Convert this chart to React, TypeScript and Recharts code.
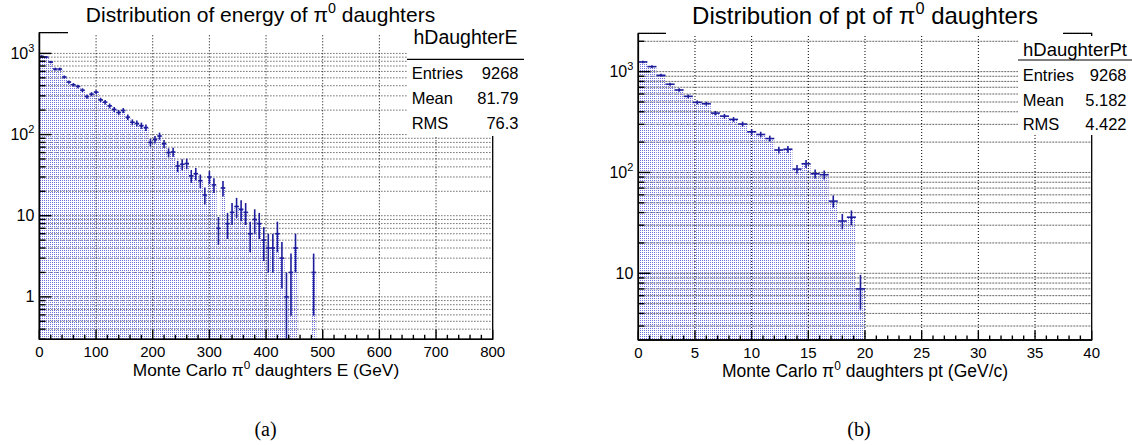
import React from 'react';
import {
  ComposedChart,
  Bar,
  Scatter,
  XAxis,
  YAxis,
  CartesianGrid,
  ErrorBar,
  ReferenceLine,
  ReferenceArea,
} from 'recharts';

const FONT = '"Liberation Sans", Arial, Helvetica, sans-serif';
const SERIF = '"Liberation Serif", "DejaVu Serif", serif';
const BLUE = '#1d1d9c';

// ---------- (a) energy of pi0 daughters ----------
const energyBinWidth = 8;
const energyCounts = [
  918, 902, 783, 642, 642, 512, 444, 411, 392, 353,
  294, 315, 334, 268, 251, 226, 204, 187, 198, 164,
  142, 137, 129, 122, 80, 87, 96, 77, 60, 61,
  41, 43, 44, 31, 33, 27, 18, 30, 24, 7,
  22, 8, 11, 13, 12, 11, 6, 9, 8, 5,
  4, 4, 6, 3, 1, 2, 4, 0, 0, 0,
  2, 0, 0, 0, 0, 0, 0, 0, 0, 0,
  0, 0, 0, 0, 0, 0, 0, 0, 0, 0,
  0, 0, 0, 0, 0, 0, 0, 0, 0, 0,
  0, 0, 0, 0, 0, 0, 0, 0, 0, 0,
];
const energyXLabels = [0, 100, 200, 300, 400, 500, 600, 700, 800];
const energyMinorStep = 20;
const energyYDomain = [0.3, 1800];
const energyYTicks = [
  0.3, 0.4, 0.5, 0.6, 0.7, 0.8, 0.9,
  1, 2, 3, 4, 5, 6, 7, 8, 9,
  10, 20, 30, 40, 50, 60, 70, 80, 90,
  100, 200, 300, 400, 500, 600, 700, 800, 900,
  1000,
];
const energyStats = [
  ['Entries', '9268'],
  ['Mean', '81.79'],
  ['RMS', '76.3'],
];

// ---------- (b) pt of pi0 daughters ----------
const ptBinWidth = 0.8;
const ptCounts = [
  1248, 1121, 920, 750, 658, 569, 496, 481, 388, 362,
  336, 302, 253, 238, 217, 167, 170, 108, 122, 97,
  95, 52, 33, 36, 7, 0, 0, 0, 0, 0,
  0, 0, 0, 0, 0, 0, 0, 0, 0, 0,
  0, 0, 0, 0, 0, 0, 0, 0, 0, 0,
];
const ptXLabels = [0, 5, 10, 15, 20, 25, 30, 35, 40];
const ptMinorStep = 1;
const ptYDomain = [2.18, 2400];
const ptYTicks = [
  3, 4, 5, 6, 7, 8, 9,
  10, 20, 30, 40, 50, 60, 70, 80, 90,
  100, 200, 300, 400, 500, 600, 700, 800, 900,
  1000, 2000,
];
const ptStats = [
  ['Entries', '9268'],
  ['Mean', '5.182'],
  ['RMS', '4.422'],
];

function buildBins(counts: number[], width: number, floor: number) {
  return counts.map((c, i) => {
    const s = Math.sqrt(c);
    return {
      bin: i,
      x: (i + 0.5) * width,
      v: c > 0 ? c : null,
      ey: [Math.min(s, c - floor * 1.0005), s],
      ex: width / 2,
    };
  });
}

function buildXTicks(labels: number[], step: number) {
  const max = labels[labels.length - 1];
  const n = Math.round(max / step);
  return Array.from({ length: n + 1 }, (_, i) => +(i * step).toFixed(6));
}

const makeXTick = (majorStep: number) => (props: any) => {
  const { x, y, payload } = props;
  const v = payload.value;
  const r = v / majorStep;
  const major = Math.abs(r - Math.round(r)) < 1e-6;
  return (
    <g>
      <line x1={x} x2={x} y1={y} y2={y - (major ? 9.5 : 4.5)} stroke="#000" strokeWidth={1.4} />
      {major && (
        <text x={x} y={y + 18} textAnchor="middle" fontSize={15} fontFamily={FONT} fill="#000">
          {v}
        </text>
      )}
    </g>
  );
};

const renderYTick = (props: any) => {
  const { x, y, payload } = props;
  const v = payload.value;
  const lg = Math.log10(v);
  const exp = Math.round(lg);
  const decade = Math.abs(lg - exp) < 1e-6;
  let label: any = null;
  if (decade) {
    if (exp === 0) label = '1';
    else if (exp === 1) label = '10';
    else
      label = (
        <>
          10
          <tspan dy={-7} fontSize={11}>
            {exp}
          </tspan>
        </>
      );
  }
  return (
    <g>
      <line x1={x} x2={x + (decade ? 12 : 6)} y1={y} y2={y} stroke="#000" strokeWidth={1.4} />
      {label !== null && (
        <text x={x - 5} y={y + 5.5} textAnchor="end" fontSize={16} fontFamily={FONT} fill="#000">
          {label}
        </text>
      )}
    </g>
  );
};

type PanelProps = {
  left: number;
  chartWidth: number;
  plotLeft: number;
  plotRight: number;
  plotTop: number;
  plotBottom: number;
  counts: number[];
  binWidth: number;
  xLabels: number[];
  minorStep: number;
  yDomain: number[];
  yTicks: number[];
  patternId: string;
  hGridStroke: string;
  hGridDash: string;
};

function Histogram(p: PanelProps) {
  const H = 445;
  const xAxisH = 30;
  const bins = buildBins(p.counts, p.binWidth, p.yDomain[0]);
  const points = bins.filter((b) => b.v !== null);
  const xMax = p.xLabels[p.xLabels.length - 1];
  const majorStep = p.xLabels[1] - p.xLabels[0];
  const xTicks = buildXTicks(p.xLabels, p.minorStep);
  const margin = {
    top: p.plotTop,
    right: p.chartWidth - (p.plotRight - p.left),
    bottom: H - p.plotBottom - xAxisH,
    left: 0,
  };
  return (
    <div style={{ position: 'absolute', left: p.left, top: 0 }}>
      <ComposedChart
        width={p.chartWidth}
        height={H}
        data={bins}
        margin={margin}
        barCategoryGap={0}
        barGap={0}
      >
        <CartesianGrid
          xAxisId="num"
          yAxisId="y"
          vertical={false}
          stroke={p.hGridStroke}
          strokeDasharray={p.hGridDash}
          strokeWidth={1}
        />
        <XAxis
          xAxisId="num"
          dataKey="x"
          type="number"
          domain={[0, xMax]}
          allowDataOverflow
          ticks={xTicks}
          interval={0}
          height={xAxisH}
          tickSize={0}
          tickMargin={0}
          tickLine={false}
          axisLine={{ stroke: '#000', strokeWidth: 1.6 }}
          tick={makeXTick(majorStep)}
        />
        <XAxis xAxisId="bins" dataKey="bin" type="category" hide height={0} />
        <YAxis
          yAxisId="y"
          type="number"
          scale="log"
          domain={p.yDomain}
          allowDataOverflow
          ticks={p.yTicks}
          interval={0}
          width={p.plotLeft - p.left}
          tickSize={0}
          tickMargin={0}
          tickLine={false}
          axisLine={{ stroke: '#000', strokeWidth: 1.6 }}
          tick={renderYTick}
        />
        {p.xLabels.slice(1, -1).map((v) => (
          <ReferenceLine
            key={v}
            xAxisId="num"
            yAxisId="y"
            x={v}
            stroke="#000"
            strokeDasharray="1 2"
            strokeWidth={1}
          />
        ))}
        <Bar
          xAxisId="bins"
          yAxisId="y"
          dataKey="v"
          fill={`url(#${p.patternId})`}
          isAnimationActive={false}
        />
        <Scatter
          xAxisId="num"
          yAxisId="y"
          data={points}
          dataKey="v"
          shape={() => <g />}
          isAnimationActive={false}
        >
          <ErrorBar dataKey="ey" direction="y" width={0} stroke={BLUE} strokeWidth={1.6} />
          <ErrorBar dataKey="ex" direction="x" width={0} stroke={BLUE} strokeWidth={1.6} />
        </Scatter>
        <ReferenceArea
          xAxisId="num"
          yAxisId="y"
          x1={0}
          x2={xMax}
          y1={p.yDomain[0]}
          y2={p.yDomain[1]}
          fill="none"
          fillOpacity={0}
          stroke="#000"
          strokeWidth={1.3}
        />
      </ComposedChart>
    </div>
  );
}

// "before π⁰ after" as text content with a superscript zero
function piText(before: string, after: string, size: number) {
  return [
    before + 'π',
    <tspan key="s" dy={-size * 0.4} fontSize={size * 0.68}>
      0
    </tspan>,
    <tspan key="a" dy={size * 0.4}>
      {after}
    </tspan>,
  ];
}

function StatsBox({
  x,
  y,
  w,
  h,
  title,
  titleBase,
  titleSize,
  lineY,
  rows,
  rowBases,
  rowSize,
}: any) {
  return (
    <g fontFamily={FONT} fill="#000">
      <rect x={x} y={y} width={w} height={h} fill="#fff" />
      <text x={x + w / 2} y={titleBase} textAnchor="middle" fontSize={titleSize}>
        {title}
      </text>
      <line x1={x} x2={x + w} y1={lineY} y2={lineY} stroke="#000" strokeWidth={1.2} />
      {rows.map((r: string[], i: number) => (
        <g key={r[0]}>
          <text x={x + 4.7} y={rowBases[i]} fontSize={rowSize}>
            {r[0]}
          </text>
          <text x={x + w - 5.5} y={rowBases[i]} fontSize={rowSize} textAnchor="end">
            {r[1]}
          </text>
        </g>
      ))}
    </g>
  );
}

export default function App() {
  return (
    <div
      style={{
        position: 'absolute',
        left: 0,
        top: 0,
        width: 1132,
        height: 445,
        background: '#fff',
        overflow: 'hidden',
      }}
    >
      <svg width={0} height={0} style={{ position: 'absolute' }}>
        <defs>
          <pattern id="dotsA" width="2" height="2" patternUnits="userSpaceOnUse">
            <rect x="0" y="0" width="1" height="1" fill="#6f6fe0" />
          </pattern>
          <pattern id="dotsB" width="2" height="2" patternUnits="userSpaceOnUse">
            <rect x="0" y="0" width="1" height="1" fill="#6f6fe0" />
          </pattern>
        </defs>
      </svg>

      <Histogram
        left={0}
        chartWidth={560}
        plotLeft={39.4}
        plotRight={492.7}
        plotTop={32.7}
        plotBottom={339.3}
        counts={energyCounts}
        binWidth={energyBinWidth}
        xLabels={energyXLabels}
        minorStep={energyMinorStep}
        yDomain={energyYDomain}
        yTicks={energyYTicks}
        patternId="dotsA"
        hGridStroke="#222"
        hGridDash="1 2"
      />
      <Histogram
        left={566}
        chartWidth={566}
        plotLeft={638.3}
        plotRight={1091.7}
        plotTop={33.3}
        plotBottom={340}
        counts={ptCounts}
        binWidth={ptBinWidth}
        xLabels={ptXLabels}
        minorStep={ptMinorStep}
        yDomain={ptYDomain}
        yTicks={ptYTicks}
        patternId="dotsB"
        hGridStroke="#666"
        hGridDash="2 1"
      />

      <svg
        width={1132}
        height={445}
        style={{ position: 'absolute', left: 0, top: 0, pointerEvents: 'none' }}
      >
        {/* title boxes */}
        <rect x={68} y={0} width={388} height={34.2} fill="#fff" />
        <text x={260.5} y={21.7} textAnchor="middle" fontSize={21} fontFamily={FONT} fill="#000">
          {piText('Distribution of energy of ', ' daughters', 21)}
        </text>
        <rect x={666} y={0} width={397} height={34.8} fill="#fff" />
        <text x={865} y={23.8} textAnchor="middle" fontSize={24} fontFamily={FONT} fill="#000">
          {piText('Distribution of pt of ', ' daughters', 24)}
        </text>

        <StatsBox
          x={407}
          y={28}
          w={117}
          h={108}
          title="hDaughterE"
          titleBase={43.5}
          titleSize={19.5}
          lineY={59.3}
          rows={energyStats}
          rowBases={[79, 104, 129]}
          rowSize={16.5}
        />
        <StatsBox
          x={1018}
          y={36}
          w={114}
          h={99}
          title="hDaughterPt"
          titleBase={56}
          titleSize={18.5}
          lineY={60}
          rows={ptStats}
          rowBases={[81, 106, 130]}
          rowSize={16.5}
        />

        {/* axis titles */}
        <text x={266} y={376} textAnchor="middle" fontSize={17.3} fontFamily={FONT} fill="#000">
          {piText('Monte Carlo ', ' daughters E (GeV)', 17.3)}
        </text>
        <text x={865} y={377.4} textAnchor="middle" fontSize={17.5} fontFamily={FONT} fill="#000">
          {piText('Monte Carlo ', ' daughters pt (GeV/c)', 17.5)}
        </text>

        {/* captions */}
        <text x={265.5} y={436} textAnchor="middle" fontSize={20} fontFamily={SERIF} fill="#000">
          (a)
        </text>
        <text x={859} y={436} textAnchor="middle" fontSize={20} fontFamily={SERIF} fill="#000">
          (b)
        </text>
      </svg>
    </div>
  );
}
